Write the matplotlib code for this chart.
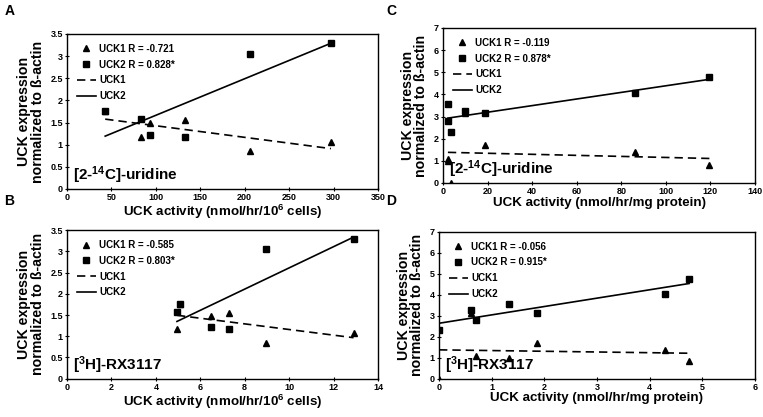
import matplotlib
matplotlib.use('Agg')
import matplotlib.pyplot as plt
import numpy as np

plt.rcParams['font.family'] = ['Liberation Sans', 'DejaVu Sans']
plt.rcParams['font.weight'] = 'bold'
plt.rcParams['mathtext.fontset'] = 'custom'
plt.rcParams['mathtext.rm'] = 'Liberation Sans:bold'
plt.rcParams['mathtext.it'] = 'Liberation Sans:bold'
plt.rcParams['mathtext.bf'] = 'Liberation Sans:bold'

# panel A / B: activity per 10^6 cells
a_x = [43, 83, 93, 133, 206, 297]
b_x = [5.1, 4.95, 6.5, 7.3, 8.95, 12.9]
ab_uck1 = [1.77, 1.18, 1.48, 1.55, 0.85, 1.07]
ab_uck2 = [1.77, 1.57, 1.22, 1.18, 3.05, 3.30]

# panel C / D: activity per mg protein
c_x = [2.3, 2.2, 3.5, 9.7, 18.7, 86, 119.5]
d_x = [1.32, 0.7, 0.0, 0.6, 1.87, 4.3, 4.75]
cd_uck1 = [1.00, 1.10, 0.00, 3.15, 1.70, 1.38, 0.82]
cd_uck2 = [3.55, 2.80, 2.30, 3.27, 3.15, 4.05, 4.77]

panels = [
    ('A', [0.0878, 0.5468, 0.4076, 0.3717], a_x, ab_uck1, ab_uck2, ['-0.721', '0.828*'],
     (0, 350, 50), (0, 3.5, 0.5), 'UCK activity (nmol/hr/10$^6$ cells)', '[2-$^{14}$C]-uridine'),
    ('B', [0.0878, 0.092, 0.4076, 0.356], b_x, ab_uck1, ab_uck2, ['-0.585', '0.803*'],
     (0, 14, 2), (0, 3.5, 0.5), 'UCK activity (nmol/hr/10$^6$ cells)', '[$^3$H]-RX3117'),
    ('C', [0.5806, 0.5612, 0.409, 0.3717], c_x, cd_uck1, cd_uck2, ['-0.119', '0.878*'],
     (0, 140, 20), (0, 7, 1), 'UCK activity (nmol/hr/mg protein)', '[2-$^{14}$C]-uridine'),
    ('D', [0.5754, 0.092, 0.414, 0.352], d_x, cd_uck1, cd_uck2, ['-0.056', '0.915*'],
     (0, 6, 1), (0, 7, 1), 'UCK activity (nmol/hr/mg protein)', '[$^3$H]-RX3117'),
]
label_pos = {'A': (0.006, 0.99), 'B': (0.006, 0.535), 'C': (0.506, 0.99), 'D': (0.506, 0.535)}

fig = plt.figure(figsize=(7.63, 4.17), dpi=100)
for name, rect, x, y1, y2, rs, xt, yt, xl, tag in panels:
    ax = fig.add_axes(rect)
    x = np.array(x)
    ax.plot(x, y1, '^', color='black', ms=4, label='UCK1 R = ' + rs[0])
    ax.plot(x, y2, 's', color='black', ms=4.5, label='UCK2 R = ' + rs[1])
    xs = np.array([x.min(), x.max()])
    p1 = np.polyfit(x, y1, 1)
    p2 = np.polyfit(x, y2, 1)
    ax.plot(xs, np.polyval(p1, xs), '--', color='black', lw=1.2, dashes=(5, 3), label='UCK1')
    ax.plot(xs, np.polyval(p2, xs), '-', color='black', lw=1.2, label='UCK2')
    ax.set_xlim(xt[0], xt[1])
    ax.set_ylim(yt[0], yt[1])
    ax.set_xticks(np.arange(xt[0], xt[1] + xt[2] / 2, xt[2]))
    ax.set_yticks(np.arange(yt[0], yt[1] + yt[2] / 2, yt[2]))
    ax.set_xticklabels(['%g' % v for v in ax.get_xticks()])
    ax.set_yticklabels(['%g' % v for v in ax.get_yticks()])
    ax.tick_params(labelsize=6.5, length=3, width=0.8, direction='inout', pad=1.5)
    for s in ax.spines.values():
        s.set_linewidth(1.0)
    ax.set_xlabel(xl, fontsize=9.6, fontweight='bold', labelpad=0.5)
    ax.set_ylabel('UCK expression\nnormalized to ß-actin', fontsize=10.2, fontweight='bold',
                  labelpad=4, linespacing=0.95)
    ax.legend(loc='upper left', frameon=False, fontsize=7, handlelength=2.0,
              handletextpad=0.3, labelspacing=0.6, borderaxespad=0.8, borderpad=0.2)
    ax.text(0.02, 0.06, tag, transform=ax.transAxes, fontsize=11, fontweight='bold')
    fig.text(label_pos[name][0], label_pos[name][1], name, fontsize=10, fontweight='bold',
             va='top')

plt.savefig('out.png', dpi=100)
